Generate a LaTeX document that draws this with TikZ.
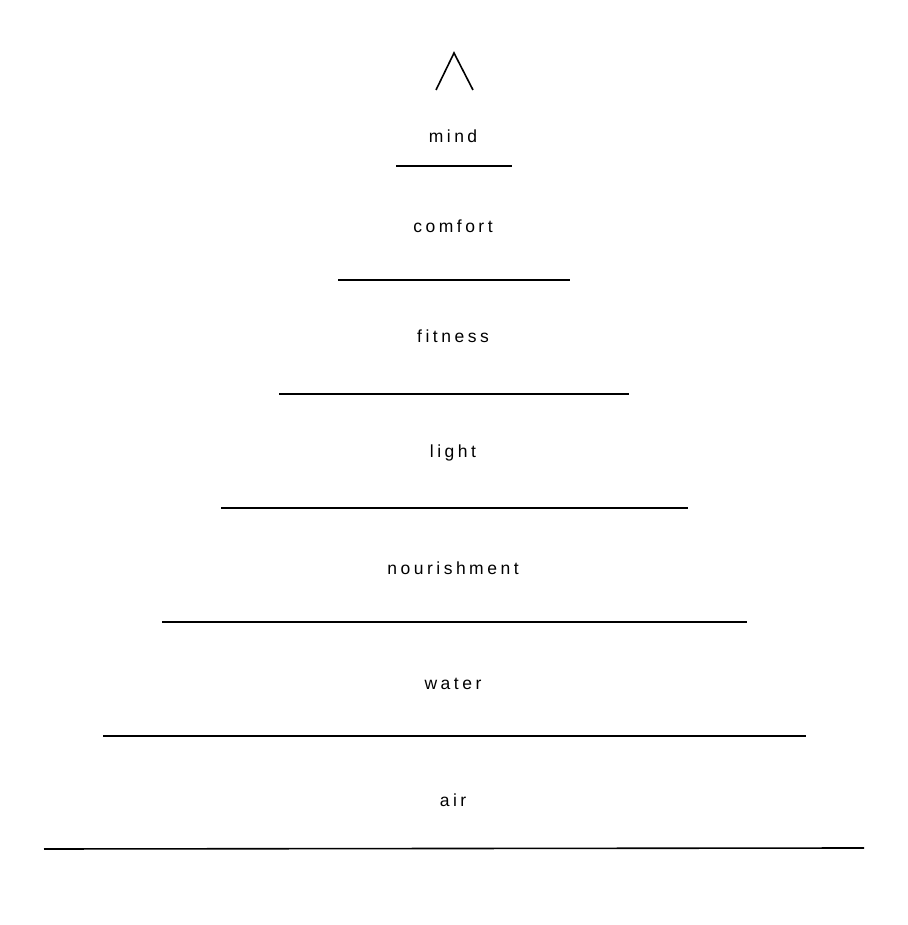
\documentclass[tikz,border=0pt]{standalone}
\usepackage{fontspec}
\setmainfont{Liberation Sans}[LetterSpace=20]
\tikzset{
    levellabel/.style={inner sep=0pt, font=\fontsize{17.5}{20}\selectfont},
    levelline/.style={line width=1.6pt}
}
\def\midx{453}

\begin{document}
\begin{tikzpicture}[x=1pt, y=1pt]
    \useasboundingbox (0, 0) rectangle (907, 925);
    % peak
    \coordinate (PL) at (436, 835);
    \coordinate (PT) at (454, 872);
    \coordinate (PR) at (473, 835);
    \draw[levelline] (PL) -- (PT) -- (PR);
    % labels
    \node[levellabel] (mind) at (\midx, 789) {mind};
    \node[levellabel] (comfort) at (\midx, 699) {comfort};
    \node[levellabel] (fitness) at (\midx, 589) {fitness};
    \node[levellabel] (light) at (\midx, 472) {light};
    \node[levellabel] (nourishment) at (\midx, 357) {nourishment};
    \node[levellabel] (water) at (\midx, 241) {water};
    \node[levellabel] (air) at (\midx, 125) {air};
    % level lines
    \coordinate (L1) at (396, 759);
    \coordinate (R1) at (512, 759);
    \coordinate (L2) at (338, 645);
    \coordinate (R2) at (570, 645);
    \coordinate (L3) at (279, 531);
    \coordinate (R3) at (629, 531);
    \coordinate (L4) at (221, 417);
    \coordinate (R4) at (688, 417);
    \coordinate (L5) at (162, 303);
    \coordinate (R5) at (747, 303);
    \coordinate (L6) at (103, 189);
    \coordinate (R6) at (806, 189);
    \coordinate (L7) at (44, 76);
    \coordinate (R7) at (864, 77);
    \draw[levelline] (L1) -- (R1);
    \draw[levelline] (L2) -- (R2);
    \draw[levelline] (L3) -- (R3);
    \draw[levelline] (L4) -- (R4);
    \draw[levelline] (L5) -- (R5);
    \draw[levelline] (L6) -- (R6);
    \draw[levelline] (L7) -- (R7);
\end{tikzpicture}
\end{document}
